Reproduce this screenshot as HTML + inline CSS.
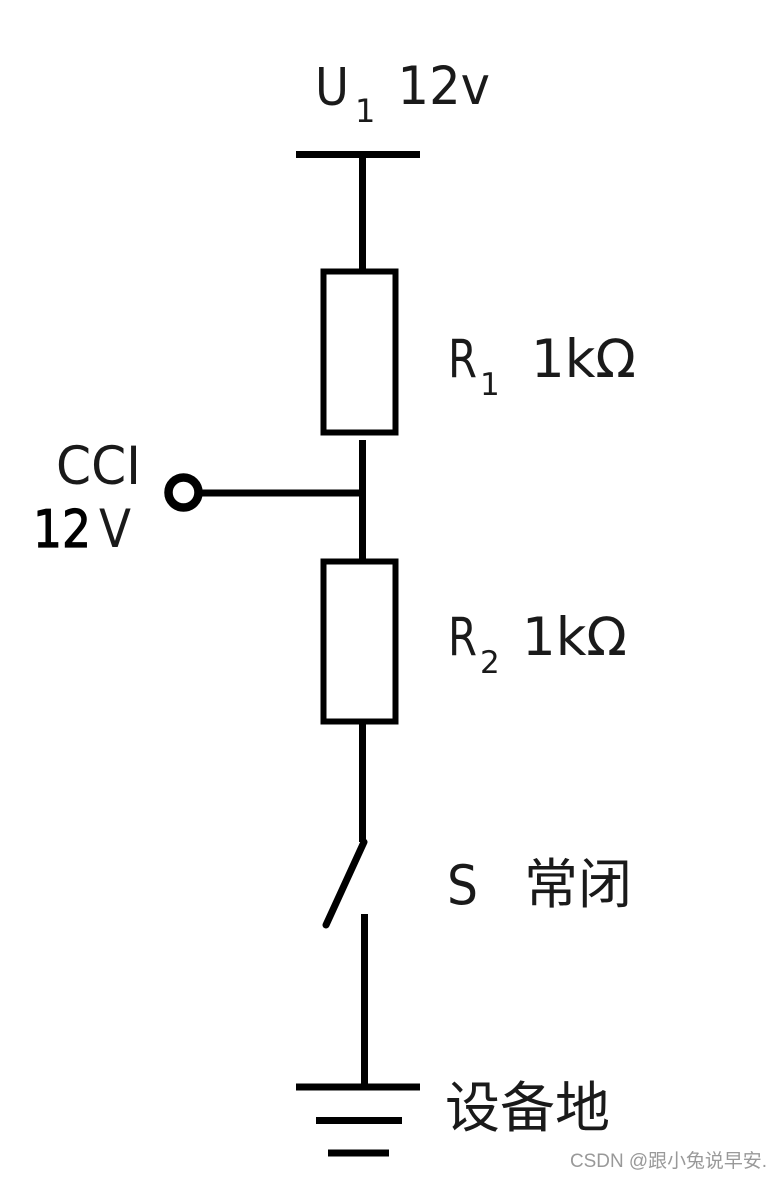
<!DOCTYPE html>
<html>
<head>
<meta charset="utf-8">
<style>
html,body{margin:0;padding:0;background:#fff;}
svg{display:block;}
text{font-family:"DejaVu Sans","Noto Sans CJK SC",sans-serif;fill:#1a1a1a;}
text.cjk{font-family:"Noto Sans CJK SC",sans-serif;}
text.wm{font-family:"Liberation Sans","Noto Sans CJK SC",sans-serif;fill:#999;}
</style>
</head>
<body>
<svg width="782" height="1179" viewBox="0 0 782 1179" xmlns="http://www.w3.org/2000/svg">
<rect width="782" height="1179" fill="#fff"/>
<g stroke="#000" stroke-width="7" fill="none">
<line x1="296" y1="154.500" x2="420" y2="154.500"/>
<line x1="362.500" y1="154" x2="362.500" y2="271"/>
<rect x="323.500" y="271.500" width="72" height="161" stroke-width="6"/>
<line x1="362.500" y1="440" x2="362.500" y2="561"/>
<line x1="200" y1="493" x2="362" y2="493"/>
<circle cx="183.500" cy="492.500" r="15" stroke-width="8.500"/>
<rect x="323.500" y="561.500" width="72" height="160" stroke-width="6"/>
<line x1="362.500" y1="722" x2="362.500" y2="842"/>
<line x1="364" y1="842" x2="326" y2="925" stroke-linecap="round" stroke-width="7"/>
<line x1="364.500" y1="914" x2="364.500" y2="1087"/>
<line x1="296" y1="1087" x2="420" y2="1087"/>
<line x1="316" y1="1120.500" x2="402" y2="1120.500"/>
<line x1="328" y1="1153" x2="389" y2="1153"/>
</g>
<text x="315" y="105" font-size="52" textLength="34" lengthAdjust="spacingAndGlyphs">U</text>
<text x="355" y="122" font-size="32">1</text>
<text x="397.500" y="104" font-size="53" textLength="92.500" lengthAdjust="spacingAndGlyphs">12v</text>
<text x="448" y="377" font-size="53" textLength="29" lengthAdjust="spacingAndGlyphs">R</text>
<text x="480" y="395" font-size="31">1</text>
<text x="531" y="377" font-size="53">1kΩ</text>
<text x="56" y="484" font-size="53" textLength="85" lengthAdjust="spacingAndGlyphs">CCI</text>
<text x="33" y="547" font-size="52" textLength="58" lengthAdjust="spacingAndGlyphs" style="fill:#000;stroke:#000;stroke-width:1.200">12</text>
<text x="99" y="547" font-size="53" textLength="32" lengthAdjust="spacingAndGlyphs">V</text>
<text x="448" y="655" font-size="53" textLength="29" lengthAdjust="spacingAndGlyphs">R</text>
<text x="480" y="673" font-size="31">2</text>
<text x="522" y="655" font-size="53">1kΩ</text>
<text x="447" y="904" font-size="54" textLength="31" lengthAdjust="spacingAndGlyphs">S</text>
<text class="cjk" x="524" y="903" font-size="54">常闭</text>
<text class="cjk" x="445" y="1127" font-size="55">设备地</text>
<text class="wm" x="570" y="1167" font-size="19" textLength="197" lengthAdjust="spacingAndGlyphs">CSDN @跟小兔说早安.</text>
</svg>
</body>
</html>
